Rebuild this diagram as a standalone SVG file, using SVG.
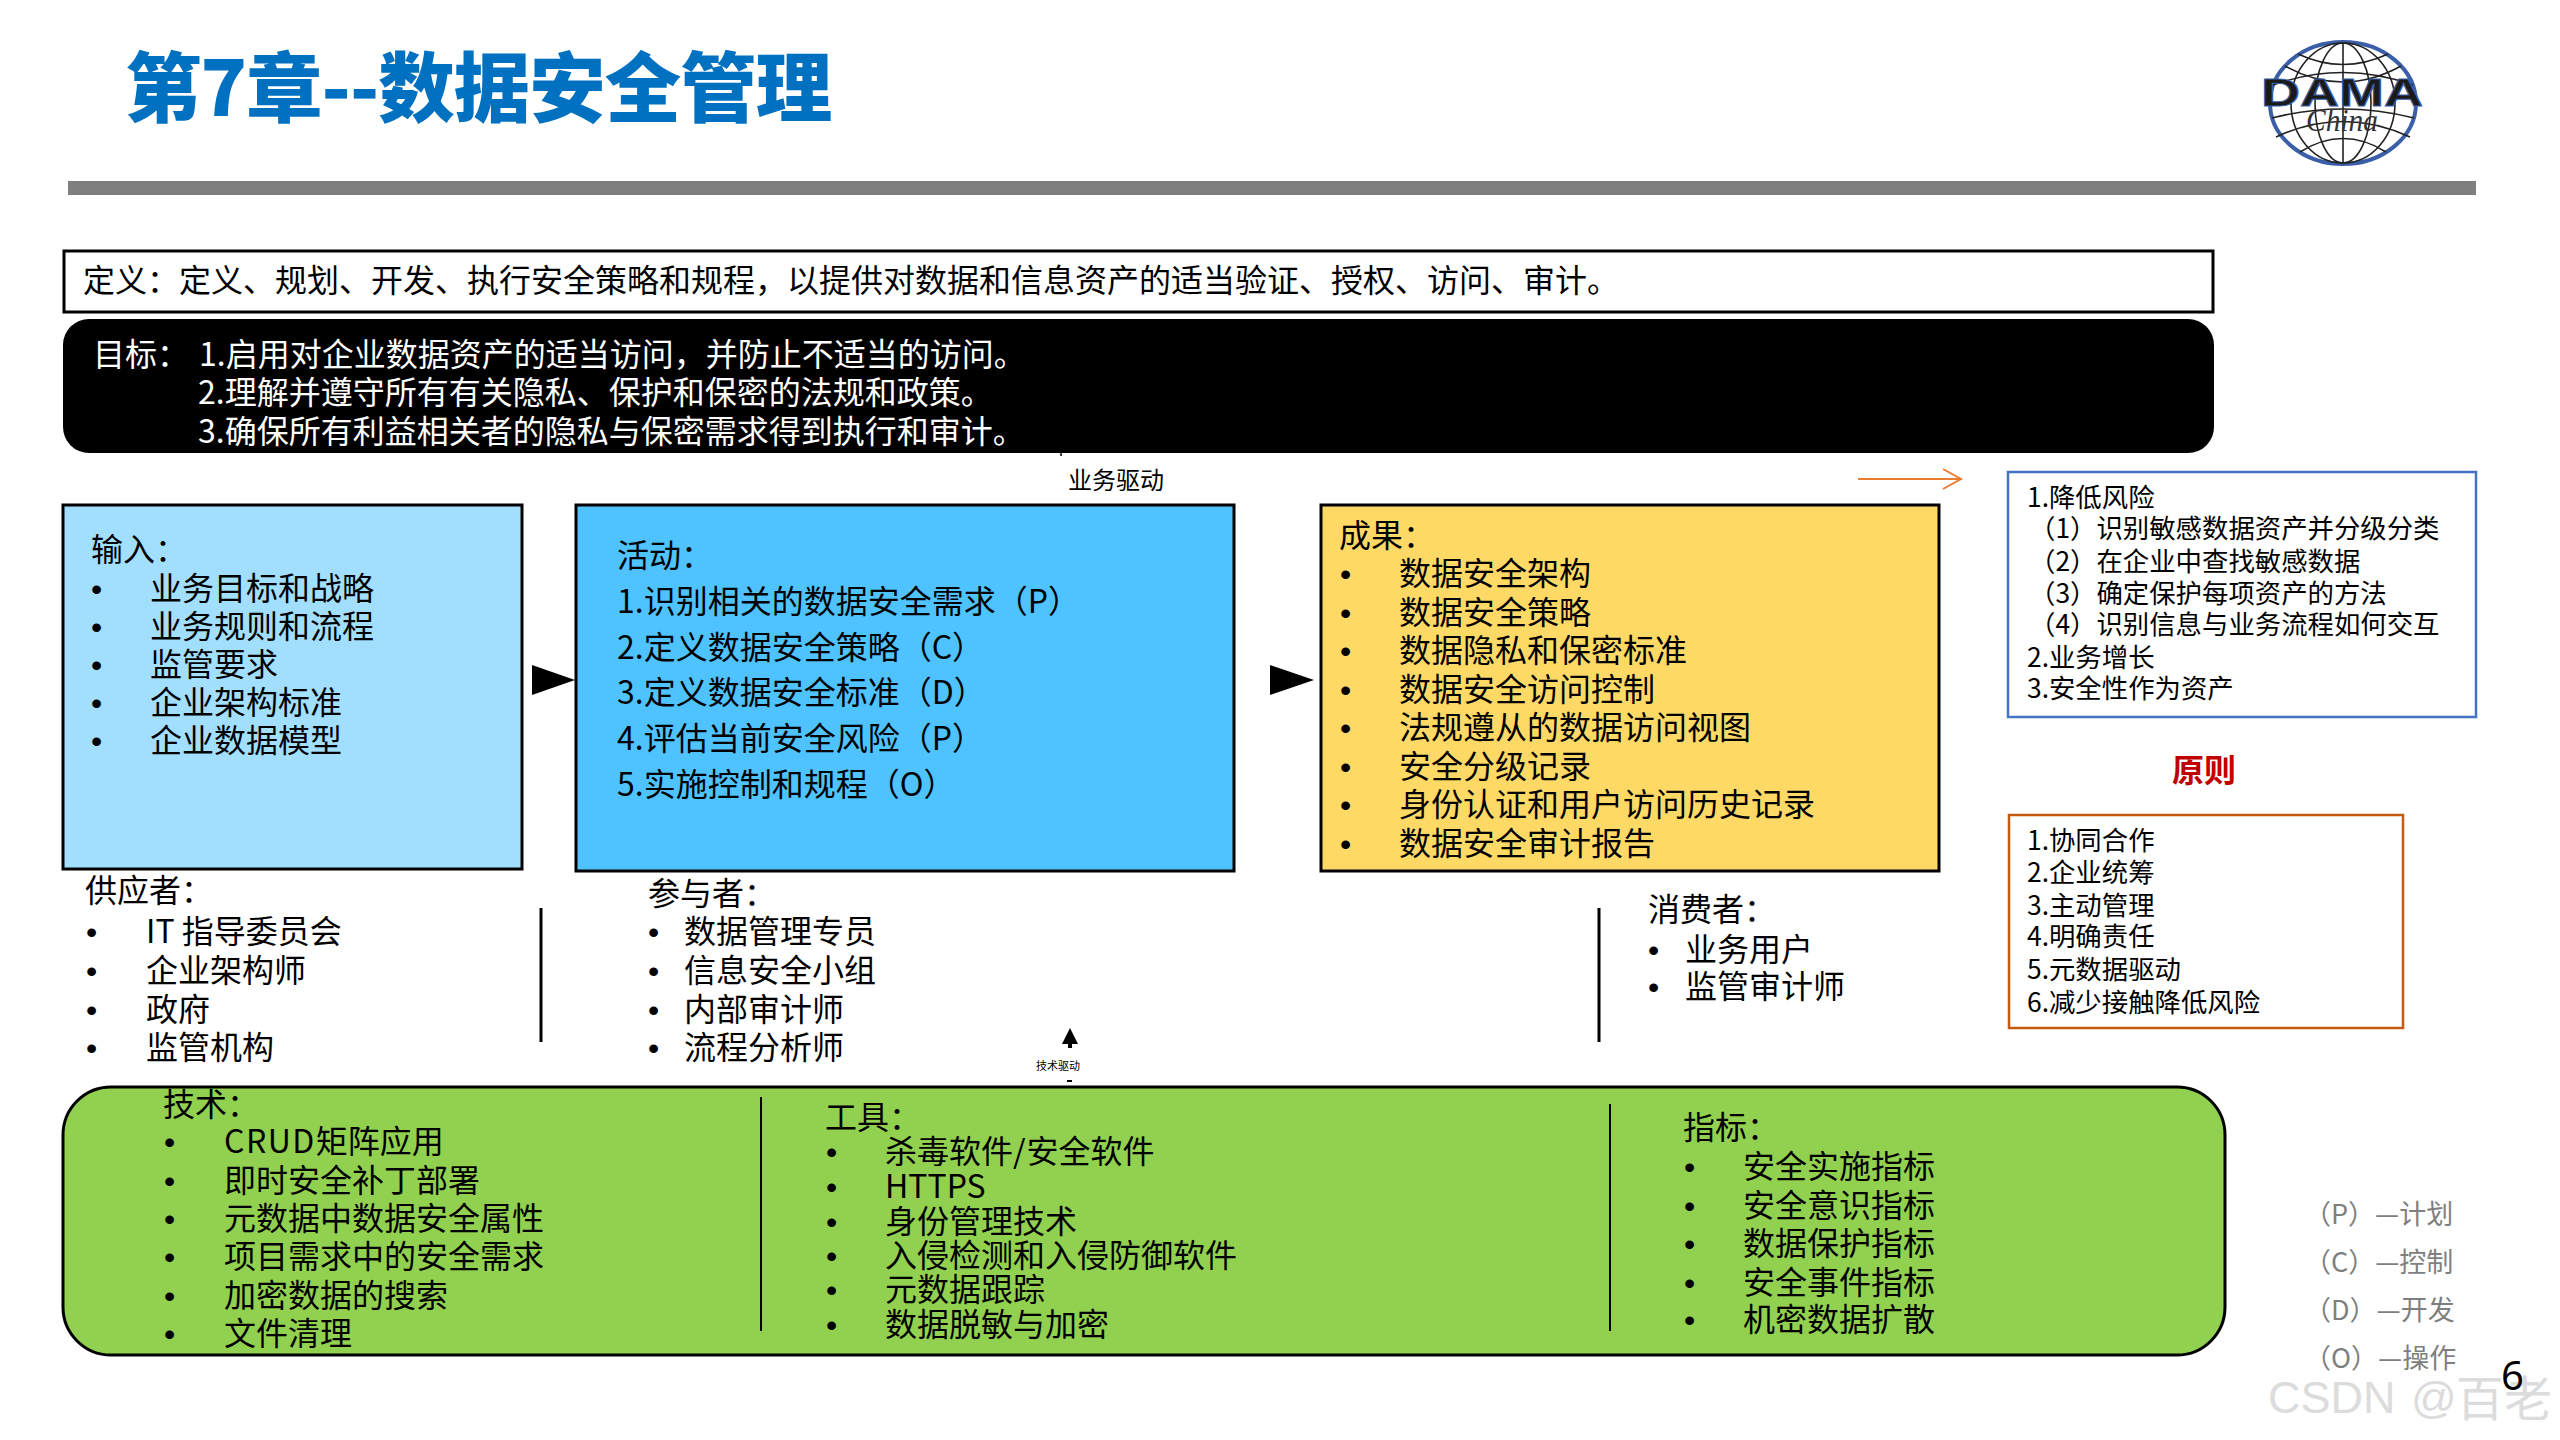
<svg xmlns="http://www.w3.org/2000/svg" width="2560" height="1440" viewBox="0 0 2560 1440">
<style>
text{font-family:"Noto Sans CJK SC","Noto Sans",sans-serif;fill:#000}
.t32{font-size:32px}
.t26{font-size:26.4px}
.b{font-family:"Liberation Sans",sans-serif;font-size:32px}
.box{stroke:#000;stroke-width:3}
.sep{stroke:#000;stroke-width:3;fill:none}
.lg{font-size:27px;fill:#7f7f7f}
.mer{fill:none;stroke:#222;stroke-width:1.6}
</style>
<rect width="2560" height="1440" fill="#fff"/>
<g id="title"><text x="125" y="116" style="font-size:76.5px;font-weight:900;fill:#0070c0;letter-spacing:-1px">第7章--数据安全管理</text></g>
<g id="rule"><rect x="68" y="181" width="2408" height="14" fill="#7f7f7f"/></g>
<g id="logo">
<ellipse cx="2343" cy="103" rx="73" ry="61" fill="#fff" stroke="#3a5fa8" stroke-width="4"/>
<g class="mer">
<ellipse cx="2343" cy="103" rx="52" ry="60"/><ellipse cx="2343" cy="103" rx="28" ry="60"/><path d="M2343 43V163"/>
<path d="M2285 66Q2343 98 2401 66M2273 85Q2343 60 2413 85M2298 54Q2343 75 2388 54M2272 118Q2343 100 2414 118M2276 137Q2343 106 2410 137M2300 152Q2343 125 2386 152"/>
</g>
<text x="2261" y="106" textLength="162" lengthAdjust="spacingAndGlyphs" style="font-family:'Liberation Sans',sans-serif;font-size:39px;font-weight:700;fill:#1a1a1a;stroke:#3a5fa8;stroke-width:1">DAMA</text>
<text x="2306" y="131" textLength="72" lengthAdjust="spacingAndGlyphs" style="font-family:'Liberation Serif',serif;font-size:32px;font-style:italic;fill:#333">China</text>
</g>
<g id="definition"><rect x="64" y="251" width="2149" height="61" fill="#fff" class="box"/>
<text class="t32" x="83" y="292">定义：定义、规划、开发、执行安全策略和规程，以提供对数据和信息资产的适当验证、授权、访问、审计。</text></g>
<g id="goals"><rect x="63" y="319" width="2151" height="134" rx="26" ry="26" fill="#000"/>
<g style="font-size:32px">
<text class="t32" x="93" y="366" style="fill:#fff">目标：</text>
<text class="t32" x="199" y="366" style="fill:#fff">1.启用对企业数据资产的适当访问，并防止不适当的访问。</text>
<text class="t32" x="198" y="404" style="fill:#fff">2.理解并遵守所有有关隐私、保护和保密的法规和政策。</text>
<text class="t32" x="198" y="443" style="fill:#fff">3.确保所有利益相关者的隐私与保密需求得到执行和审计。</text></g></g>
<g id="driver-business"><text x="1068" y="489" style="font-size:24px">业务驱动</text></g>
<g id="inputs"><rect x="63" y="505" width="459" height="364" fill="#a2dfff" class="box"/>
<text class="t32" x="91" y="561">输入：</text>
<text class="b" x="91" y="600">•</text><text class="t32" x="150" y="600">业务目标和战略</text>
<text class="b" x="91" y="638">•</text><text class="t32" x="150" y="638">业务规则和流程</text>
<text class="b" x="91" y="676">•</text><text class="t32" x="150" y="676">监管要求</text>
<text class="b" x="91" y="714">•</text><text class="t32" x="150" y="714">企业架构标准</text>
<text class="b" x="91" y="752">•</text><text class="t32" x="150" y="752">企业数据模型</text></g>
<g id="activities"><rect x="576" y="505" width="658" height="366" fill="#4fc3ff" class="box"/>
<text class="t32" x="617" y="567">活动：</text>
<text class="t32" x="617" y="613">1.识别相关的数据安全需求（P）</text>
<text class="t32" x="617" y="659">2.定义数据安全策略（C）</text>
<text class="t32" x="617" y="704">3.定义数据安全标准（D）</text>
<text class="t32" x="617" y="750">4.评估当前安全风险（P）</text>
<text class="t32" x="617" y="796">5.实施控制和规程（O）</text></g>
<g id="outputs"><rect x="1321" y="505" width="618" height="366" fill="#ffd966" class="box"/>
<text class="t32" x="1339" y="547">成果：</text>
<text class="b" x="1340" y="585">•</text><text class="t32" x="1399" y="585">数据安全架构</text>
<text class="b" x="1340" y="624">•</text><text class="t32" x="1399" y="624">数据安全策略</text>
<text class="b" x="1340" y="662">•</text><text class="t32" x="1399" y="662">数据隐私和保密标准</text>
<text class="b" x="1340" y="701">•</text><text class="t32" x="1399" y="701">数据安全访问控制</text>
<text class="b" x="1340" y="739">•</text><text class="t32" x="1399" y="739">法规遵从的数据访问视图</text>
<text class="b" x="1340" y="778">•</text><text class="t32" x="1399" y="778">安全分级记录</text>
<text class="b" x="1340" y="816">•</text><text class="t32" x="1399" y="816">身份认证和用户访问历史记录</text>
<text class="b" x="1340" y="855">•</text><text class="t32" x="1399" y="855">数据安全审计报告</text></g>
<g id="suppliers">
<text class="t32" x="85" y="902">供应者：</text>
<text class="b" x="86" y="943">•</text><text class="t32" x="146" y="943">IT 指导委员会</text>
<text class="b" x="86" y="982">•</text><text class="t32" x="146" y="982">企业架构师</text>
<text class="b" x="86" y="1021">•</text><text class="t32" x="146" y="1021">政府</text>
<text class="b" x="86" y="1059">•</text><text class="t32" x="146" y="1059">监管机构</text></g>
<g id="participants">
<text class="t32" x="648" y="905">参与者：</text>
<text class="b" x="648" y="943">•</text><text class="t32" x="684" y="943">数据管理专员</text>
<text class="b" x="648" y="982">•</text><text class="t32" x="684" y="982">信息安全小组</text>
<text class="b" x="648" y="1021">•</text><text class="t32" x="684" y="1021">内部审计师</text>
<text class="b" x="648" y="1059">•</text><text class="t32" x="684" y="1059">流程分析师</text></g>
<g id="consumers">
<text class="t32" x="1648" y="921">消费者：</text>
<text class="b" x="1648" y="961">•</text><text class="t32" x="1685" y="961">业务用户</text>
<text class="b" x="1648" y="998">•</text><text class="t32" x="1685" y="998">监管审计师</text></g>
<g id="driver-tech"><text x="1036" y="1070" style="font-size:11px">技术驱动</text></g>
<g id="band"><rect x="63" y="1087" width="2162" height="268" rx="48" ry="48" fill="#92d050" class="box"/>
<text class="t32" x="163" y="1116">技术：</text>
<text class="b" x="164" y="1153">•</text><text class="t32" x="224" y="1153"><tspan style="letter-spacing:1.5px">CRUD</tspan>矩阵应用</text>
<text class="b" x="164" y="1192">•</text><text class="t32" x="224" y="1192">即时安全补丁部署</text>
<text class="b" x="164" y="1230">•</text><text class="t32" x="224" y="1230">元数据中数据安全属性</text>
<text class="b" x="164" y="1268">•</text><text class="t32" x="224" y="1268">项目需求中的安全需求</text>
<text class="b" x="164" y="1307">•</text><text class="t32" x="224" y="1307">加密数据的搜索</text>
<text class="b" x="164" y="1345">•</text><text class="t32" x="224" y="1345">文件清理</text>
<text class="t32" x="825" y="1129">工具：</text>
<text class="b" x="826" y="1163">•</text><text class="t32" x="885" y="1163">杀毒软件<tspan style="letter-spacing:1px">/</tspan>安全软件</text>
<text class="b" x="826" y="1198">•</text><text class="t32" x="885" y="1198">HTTPS</text>
<text class="b" x="826" y="1233">•</text><text class="t32" x="885" y="1233">身份管理技术</text>
<text class="b" x="826" y="1267">•</text><text class="t32" x="885" y="1267">入侵检测和入侵防御软件</text>
<text class="b" x="826" y="1301">•</text><text class="t32" x="885" y="1301">元数据跟踪</text>
<text class="b" x="826" y="1336">•</text><text class="t32" x="885" y="1336">数据脱敏与加密</text>
<text class="t32" x="1683" y="1139">指标：</text>
<text class="b" x="1684" y="1178">•</text><text class="t32" x="1743" y="1178">安全实施指标</text>
<text class="b" x="1684" y="1217">•</text><text class="t32" x="1743" y="1217">安全意识指标</text>
<text class="b" x="1684" y="1255">•</text><text class="t32" x="1743" y="1255">数据保护指标</text>
<text class="b" x="1684" y="1294">•</text><text class="t32" x="1743" y="1294">安全事件指标</text>
<text class="b" x="1684" y="1331">•</text><text class="t32" x="1743" y="1331">机密数据扩散</text></g>
<g id="benefits"><rect x="2008" y="472" width="468" height="245" fill="#fff" stroke="#4472c4" stroke-width="2.5"/>
<text class="t26" x="2027" y="507">1.降低风险</text>
<text class="t26" x="2029" y="538">（1）识别敏感数据资产并分级分类</text>
<text class="t26" x="2029" y="571">（2）在企业中查找敏感数据</text>
<text class="t26" x="2029" y="603">（3）确定保护每项资产的方法</text>
<text class="t26" x="2029" y="634">（4）识别信息与业务流程如何交互</text>
<text class="t26" x="2027" y="667">2.业务增长</text>
<text class="t26" x="2027" y="698">3.安全性作为资产</text></g>
<g id="principles-title"><text x="2172" y="782" style="font-size:32px;font-weight:700;fill:#c00000">原则</text></g>
<g id="principles"><rect x="2009" y="815" width="394" height="213" fill="#fff" stroke="#c55a11" stroke-width="2.5"/>
<text class="t26" x="2027" y="850">1.协同合作</text>
<text class="t26" x="2027" y="882">2.企业统筹</text>
<text class="t26" x="2027" y="915">3.主动管理</text>
<text class="t26" x="2027" y="946">4.明确责任</text>
<text class="t26" x="2027" y="979">5.元数据驱动</text>
<text class="t26" x="2027" y="1012">6.减少接触降低风险</text></g>
<g id="legend">
<text class="lg" x="2304" y="1224">（P）—计划</text>
<text class="lg" x="2304" y="1272">（C）—控制</text>
<text class="lg" x="2304" y="1320">（D）—开发</text>
<text class="lg" x="2304" y="1368">（O）—操作</text></g>
<g id="watermark"><text x="2268" y="1413" style="font-family:'Liberation Sans','Noto Sans CJK SC',sans-serif;font-size:45px;fill:#dcdcdc;word-spacing:3px">CSDN @<tspan x="2456" y="1416" style="font-size:48px">百老</tspan></text></g>
<g id="page"><text x="2501" y="1390" style="font-family:'Noto Sans',sans-serif;font-size:40px">6</text></g>
<g id="connectors">
<path d="M532 665L575 680L532 695Z" fill="#000"/>
<path d="M1270 665L1314 680L1270 695Z" fill="#000"/>
<path d="M1858 479H1961M1943 469L1961 479L1943 489" fill="none" stroke="#ed7d31" stroke-width="2"/>
<path d="M1070 1028L1078 1044H1072V1048H1068V1044H1062Z" fill="#000"/>
<path d="M1067 1081H1072" stroke="#000" stroke-width="2"/>
<path d="M1061 452V456" stroke="#000" stroke-width="1.5"/>
<path class="sep" d="M541 908V1042M1599 908V1042"/>
<path d="M761 1097V1331M1610 1104V1331" fill="none" stroke="#000" stroke-width="2"/>
</g>
</svg>
